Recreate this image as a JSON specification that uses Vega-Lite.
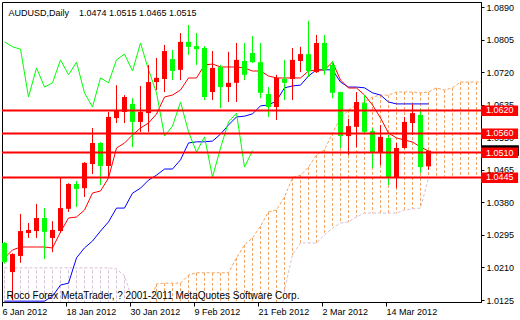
{
"$schema": "https://vega.github.io/schema/vega-lite/v6.json",
"width": 479, "height": 300,
"autosize": {"type": "none"},
"padding": {"left": 2, "top": 2, "right": 39, "bottom": 18},
"background": "white",
"config": {"font": "Liberation Sans", "view": {"stroke": "#000", "strokeWidth": 1},
 "axis": {"grid": false, "title": null, "labelOverlap": false, "labelBound": false, "labelFlush": false}},
"datasets": {
"bars": [
{"i":0,"o":1.0274,"h":1.0276,"l":1.0220,"c":1.0224},
{"i":1,"o":1.0198,"h":1.0247,"l":1.0125,"c":1.0245},
{"i":2,"o":1.0240,"h":1.0350,"l":1.0222,"c":1.0305},
{"i":3,"o":1.0300,"h":1.0326,"l":1.0287,"c":1.0308},
{"i":4,"o":1.0305,"h":1.0376,"l":1.0287,"c":1.0339},
{"i":5,"o":1.0339,"h":1.0365,"l":1.0232,"c":1.0303},
{"i":6,"o":1.0287,"h":1.0331,"l":1.0250,"c":1.0308},
{"i":7,"o":1.0305,"h":1.0446,"l":1.0300,"c":1.0365},
{"i":8,"o":1.0363,"h":1.0430,"l":1.0355,"c":1.0428},
{"i":9,"o":1.0428,"h":1.0436,"l":1.0368,"c":1.0415},
{"i":10,"o":1.0417,"h":1.0485,"l":1.0394,"c":1.0483},
{"i":11,"o":1.0480,"h":1.0574,"l":1.0454,"c":1.0535},
{"i":12,"o":1.0535,"h":1.0537,"l":1.0425,"c":1.0475},
{"i":13,"o":1.0475,"h":1.0616,"l":1.0444,"c":1.0603},
{"i":14,"o":1.0600,"h":1.0686,"l":1.0587,"c":1.0621},
{"i":15,"o":1.0616,"h":1.0660,"l":1.0587,"c":1.0655},
{"i":16,"o":1.0637,"h":1.0652,"l":1.0524,"c":1.0590},
{"i":17,"o":1.0590,"h":1.0684,"l":1.0564,"c":1.0616},
{"i":18,"o":1.0613,"h":1.0739,"l":1.0564,"c":1.0694},
{"i":19,"o":1.0694,"h":1.0757,"l":1.0673,"c":1.0705},
{"i":20,"o":1.0702,"h":1.0791,"l":1.0668,"c":1.0775},
{"i":21,"o":1.0754,"h":1.0778,"l":1.0699,"c":1.0723},
{"i":22,"o":1.0726,"h":1.0822,"l":1.0699,"c":1.0799},
{"i":23,"o":1.0799,"h":1.0843,"l":1.0765,"c":1.0786},
{"i":24,"o":1.0788,"h":1.0822,"l":1.0739,"c":1.0780},
{"i":25,"o":1.0783,"h":1.0788,"l":1.0647,"c":1.0655},
{"i":26,"o":1.0668,"h":1.0775,"l":1.0647,"c":1.0731},
{"i":27,"o":1.0733,"h":1.0739,"l":1.0626,"c":1.0681},
{"i":28,"o":1.0681,"h":1.0773,"l":1.0642,"c":1.0692},
{"i":29,"o":1.0692,"h":1.0796,"l":1.0642,"c":1.0752},
{"i":30,"o":1.0749,"h":1.0796,"l":1.0699,"c":1.0713},
{"i":31,"o":1.0770,"h":1.0814,"l":1.0744,"c":1.0746},
{"i":32,"o":1.0746,"h":1.0796,"l":1.0652,"c":1.0666},
{"i":33,"o":1.0663,"h":1.0681,"l":1.0603,"c":1.0629},
{"i":34,"o":1.0629,"h":1.0713,"l":1.0595,"c":1.0705},
{"i":35,"o":1.0702,"h":1.0752,"l":1.0647,"c":1.0692},
{"i":36,"o":1.0702,"h":1.0783,"l":1.0647,"c":1.0752},
{"i":37,"o":1.0749,"h":1.0786,"l":1.0720,"c":1.0767},
{"i":38,"o":1.0767,"h":1.0854,"l":1.0707,"c":1.0723},
{"i":39,"o":1.0720,"h":1.0817,"l":1.0718,"c":1.0796},
{"i":40,"o":1.0796,"h":1.0817,"l":1.0713,"c":1.0726},
{"i":41,"o":1.0739,"h":1.0749,"l":1.0652,"c":1.0666},
{"i":42,"o":1.0668,"h":1.0669,"l":1.0522,"c":1.0553},
{"i":43,"o":1.0553,"h":1.0598,"l":1.0504,"c":1.0579},
{"i":44,"o":1.0577,"h":1.0668,"l":1.0524,"c":1.0642},
{"i":45,"o":1.0639,"h":1.0660,"l":1.0561,"c":1.0564},
{"i":46,"o":1.0566,"h":1.0574,"l":1.0470,"c":1.0511},
{"i":47,"o":1.0509,"h":1.0582,"l":1.0477,"c":1.0551},
{"i":48,"o":1.0548,"h":1.0556,"l":1.0425,"c":1.0446},
{"i":49,"o":1.0446,"h":1.0535,"l":1.0417,"c":1.0522},
{"i":50,"o":1.0522,"h":1.0603,"l":1.0520,"c":1.0590},
{"i":51,"o":1.0587,"h":1.0637,"l":1.0556,"c":1.0613},
{"i":52,"o":1.0608,"h":1.0624,"l":1.0457,"c":1.0472},
{"i":53,"o":1.0474,"h":1.0515,"l":1.0465,"c":1.0515}
],
"ichi": [
{"i":0,"tenkan":1.02347,"kijun":1.0122},{"i":1,"tenkan":1.02556,"kijun":1.0122},{"i":2,"tenkan":1.02634,"kijun":1.0122},{"i":3,"tenkan":1.02634,"kijun":1.0122},{"i":4,"tenkan":1.02634,"kijun":1.0122},{"i":5,"tenkan":1.02634,"kijun":1.0122},{"i":6,"tenkan":1.02608,"kijun":1.0135},{"i":7,"tenkan":1.03026,"kijun":1.0164},{"i":8,"tenkan":1.03391,"kijun":1.0169},{"i":9,"tenkan":1.03417,"kijun":1.0235},{"i":10,"tenkan":1.03600,"kijun":1.0261},{"i":11,"tenkan":1.04044,"kijun":1.0279},{"i":12,"tenkan":1.04096,"kijun":1.0305},{"i":13,"tenkan":1.04435,"kijun":1.0329},{"i":14,"tenkan":1.05219,"kijun":1.0365},{"i":15,"tenkan":1.05349,"kijun":1.0365},{"i":16,"tenkan":1.05558,"kijun":1.0404},{"i":17,"tenkan":1.05741,"kijun":1.0417},{"i":18,"tenkan":1.05871,"kijun":1.0438},{"i":19,"tenkan":1.06106,"kijun":1.0451},{"i":20,"tenkan":1.06550,"kijun":1.0467},{"i":21,"tenkan":1.06603,"kijun":1.0467},{"i":22,"tenkan":1.06733,"kijun":1.0491},{"i":23,"tenkan":1.07047,"kijun":1.0535},{"i":24,"tenkan":1.07047,"kijun":1.0538},{"i":25,"tenkan":1.07386,"kijun":1.0538},{"i":26,"tenkan":1.07412,"kijun":1.0540},{"i":27,"tenkan":1.07334,"kijun":1.0558},{"i":28,"tenkan":1.07334,"kijun":1.0582},{"i":29,"tenkan":1.07334,"kijun":1.0603},{"i":30,"tenkan":1.07308,"kijun":1.0605},{"i":31,"tenkan":1.07229,"kijun":1.0611},{"i":32,"tenkan":1.07229,"kijun":1.0632},{"i":33,"tenkan":1.07099,"kijun":1.0634},{"i":34,"tenkan":1.07047,"kijun":1.0645},{"i":35,"tenkan":1.07047,"kijun":1.0679},{"i":36,"tenkan":1.07047,"kijun":1.0684},{"i":37,"tenkan":1.07047,"kijun":1.0686},{"i":38,"tenkan":1.07229,"kijun":1.0710},{"i":39,"tenkan":1.07255,"kijun":1.0726},{"i":40,"tenkan":1.07255,"kijun":1.0726},{"i":41,"tenkan":1.07464,"kijun":1.0726},{"i":42,"tenkan":1.06994,"kijun":1.0694},{"i":43,"tenkan":1.06785,"kijun":1.0681},{"i":44,"tenkan":1.06785,"kijun":1.0681},{"i":45,"tenkan":1.06603,"kijun":1.0679},{"i":46,"tenkan":1.06342,"kijun":1.0666},{"i":47,"tenkan":1.06003,"kijun":1.0660},{"i":48,"tenkan":1.05610,"kijun":1.0642},{"i":49,"tenkan":1.05480,"kijun":1.0637},{"i":50,"tenkan":1.05428,"kijun":1.0637},{"i":51,"tenkan":1.05375,"kijun":1.0637},{"i":52,"tenkan":1.05245,"kijun":1.0637},{"i":53,"tenkan":1.05140,"kijun":1.0637}
],
"chikou": [
{"i":0,"v":1.0799},{"i":1,"v":1.0786},{"i":2,"v":1.0780},{"i":3,"v":1.0655},{"i":4,"v":1.0731},{"i":5,"v":1.0681},{"i":6,"v":1.0692},{"i":7,"v":1.0752},{"i":8,"v":1.0713},{"i":9,"v":1.0746},{"i":10,"v":1.0666},{"i":11,"v":1.0629},{"i":12,"v":1.0705},{"i":13,"v":1.0692},{"i":14,"v":1.0752},{"i":15,"v":1.0767},{"i":16,"v":1.0723},{"i":17,"v":1.0796},{"i":18,"v":1.0726},{"i":19,"v":1.0666},{"i":20,"v":1.0553},{"i":21,"v":1.0579},{"i":22,"v":1.0642},{"i":23,"v":1.0564},{"i":24,"v":1.0511},{"i":25,"v":1.0551},{"i":26,"v":1.0446},{"i":27,"v":1.0522},{"i":28,"v":1.0590},{"i":29,"v":1.0613},{"i":30,"v":1.0472},{"i":31,"v":1.0515}
],
"cloud": [
{"i":0,"a":1.0090,"b":1.0209},{"i":1,"a":1.0090,"b":1.0209},{"i":2,"a":1.0090,"b":1.0209},{"i":3,"a":1.0090,"b":1.0209},{"i":4,"a":1.0090,"b":1.0209},{"i":5,"a":1.0090,"b":1.0209},{"i":6,"a":1.0090,"b":1.0209},{"i":7,"a":1.0090,"b":1.0209},{"i":8,"a":1.0090,"b":1.0209},{"i":9,"a":1.0090,"b":1.0209},{"i":10,"a":1.0090,"b":1.0209},{"i":11,"a":1.0090,"b":1.0209},{"i":12,"a":1.0090,"b":1.0209},{"i":13,"a":1.0090,"b":1.0209},{"i":14,"a":1.0090,"b":1.0206},{"i":15,"a":1.0090,"b":1.0188},{"i":16,"a":1.0090,"b":1.0125},{"i":17,"a":1.0060,"b":1.0050},{"i":18,"a":1.0108,"b":0.9990},{"i":19,"a":1.0167,"b":0.9990},{"i":20,"a":1.0169,"b":0.9990},{"i":21,"a":1.0169,"b":0.9990},{"i":22,"a":1.0169,"b":0.9990},{"i":23,"a":1.0190,"b":0.9990},{"i":24,"a":1.0196,"b":0.9990},{"i":25,"a":1.0196,"b":0.9990},{"i":26,"a":1.0196,"b":0.9990},{"i":27,"a":1.0196,"b":0.9990},{"i":28,"a":1.0196,"b":0.9990},{"i":29,"a":1.0235,"b":0.9990},{"i":30,"a":1.0269,"b":0.9990},{"i":31,"a":1.0287,"b":0.9990},{"i":32,"a":1.0318,"b":0.9990},{"i":33,"a":1.0355,"b":0.9990},{"i":34,"a":1.0360,"b":0.9990},{"i":35,"a":1.0394,"b":1.0151},{"i":36,"a":1.0444,"b":1.0243},{"i":37,"a":1.0451,"b":1.0274},{"i":38,"a":1.0472,"b":1.0274},{"i":39,"a":1.0504,"b":1.0274},{"i":40,"a":1.0517,"b":1.0295},{"i":41,"a":1.0561,"b":1.0313},{"i":42,"a":1.0600,"b":1.0326},{"i":43,"a":1.0621,"b":1.0329},{"i":44,"a":1.0634,"b":1.0342},{"i":45,"a":1.0642,"b":1.0352},{"i":46,"a":1.0655,"b":1.0352},{"i":47,"a":1.0660,"b":1.0352},{"i":48,"a":1.0660,"b":1.0352},{"i":49,"a":1.0668,"b":1.0352},{"i":50,"a":1.0668,"b":1.0360},{"i":51,"a":1.0668,"b":1.0363},{"i":52,"a":1.0666,"b":1.0365},{"i":53,"a":1.0668,"b":1.0444},{"i":54,"a":1.0679,"b":1.0444},{"i":55,"a":1.0673,"b":1.0444},{"i":56,"a":1.0679,"b":1.0444},{"i":57,"a":1.0694,"b":1.0444},{"i":58,"a":1.0694,"b":1.0444},{"i":59,"a":1.0694,"b":1.0444},{"i":60,"a":1.0694,"b":1.0444}
],
"levels": [{"p":1.0620},{"p":1.0560},{"p":1.0510},{"p":1.0445}],
"bid": [{"p":1.0515}]
},
"layer": [
{"data": {"name": "cloud"},
 "mark": {"type": "rule", "strokeDash": [3, 2], "strokeWidth": 1, "clip": true},
 "encoding": {
  "x": {"field": "i", "type": "quantitative", "scale": {"domain": [-0.3125, 59.5625], "nice": false, "zero": false},
   "axis": {"values": [-0.3, 7.7, 15.7, 23.7, 31.7, 39.7, 47.7], "tickCount": 30,
    "labelExpr": "['6 Jan 2012','18 Jan 2012','30 Jan 2012','9 Feb 2012','21 Feb 2012','2 Mar 2012','14 Mar 2012'][round(datum.value/8)]",
    "labelAlign": "left", "labelBaseline": "top", "labelPadding": 1, "labelFontSize": 9, "labelColor": "#000", "labelFlush": false, "labelOverlap": false,
    "tickSize": 4, "tickColor": "#000", "domainColor": "#000", "grid": false,
    "title": "Roco Forex MetaTrader, ? 2001-2011 MetaQuotes Software Corp.", "titleX": 4, "titleY": -3.5, "titleAlign": "left", "titleBaseline": "alphabetic",
    "titleFontSize": 10, "titleFontWeight": "normal", "titleColor": "#000", "zindex": 1}},
  "y": {"field": "a", "type": "quantitative", "scale": {"domain": [1.011979, 1.090308], "nice": false, "zero": false},
   "axis": {"orient": "right", "values": [1.0125, 1.021, 1.0295, 1.038, 1.0465, 1.055, 1.0635, 1.072, 1.0805, 1.089], "tickCount": 30, "format": ".4f",
    "labelAlign": "left", "labelBaseline": "middle", "labelPadding": 2, "labelFontSize": 9, "labelColor": "#000", "labelFlush": false, "labelOverlap": false,
    "tickSize": 3, "tickColor": "#000", "domainColor": "#000", "grid": false,
    "title": "AUDUSD,Daily\u00a0\u00a0\u00a0 1.0474 1.0515 1.0465 1.0515", "titleX": -473, "titleY": 13, "titleAngle": 0, "titleAlign": "left", "titleBaseline": "alphabetic",
    "titleFontSize": 9, "titleFontWeight": "normal", "titleColor": "#000", "zindex": 0}},
  "y2": {"field": "b"},
  "color": {"condition": {"test": "datum.a > datum.b", "value": "#F4A460"}, "value": "#D8BFD8"}
 }},
{"data": {"name": "cloud"},
 "mark": {"type": "line", "color": "#F4A460", "strokeDash": [3, 2], "strokeWidth": 1, "clip": true},
 "encoding": {
  "x": {"field": "i", "type": "quantitative", "scale": {"domain": [-0.3125, 59.5625], "nice": false, "zero": false}},
  "y": {"field": "a", "type": "quantitative", "scale": {"domain": [1.011979, 1.090308], "nice": false, "zero": false}}
 }},
{"data": {"name": "cloud"},
 "mark": {"type": "line", "color": "#D8BFD8", "strokeDash": [3, 2], "strokeWidth": 1, "clip": true},
 "encoding": {
  "x": {"field": "i", "type": "quantitative", "scale": {"domain": [-0.3125, 59.5625], "nice": false, "zero": false}},
  "y": {"field": "b", "type": "quantitative", "scale": {"domain": [1.011979, 1.090308], "nice": false, "zero": false}}
 }},
{"data": {"name": "ichi"},
 "mark": {"type": "line", "color": "#0000FF", "strokeWidth": 1, "clip": true},
 "encoding": {
  "x": {"field": "i", "type": "quantitative", "scale": {"domain": [-0.3125, 59.5625], "nice": false, "zero": false}},
  "y": {"field": "kijun", "type": "quantitative", "scale": {"domain": [1.011979, 1.090308], "nice": false, "zero": false}}
 }},
{"data": {"name": "ichi"},
 "mark": {"type": "line", "color": "#FF0000", "strokeWidth": 1, "clip": true},
 "encoding": {
  "x": {"field": "i", "type": "quantitative", "scale": {"domain": [-0.3125, 59.5625], "nice": false, "zero": false}},
  "y": {"field": "tenkan", "type": "quantitative", "scale": {"domain": [1.011979, 1.090308], "nice": false, "zero": false}}
 }},
{"data": {"name": "chikou"},
 "mark": {"type": "line", "color": "#00FF00", "strokeWidth": 1, "clip": true},
 "encoding": {
  "x": {"field": "i", "type": "quantitative", "scale": {"domain": [-0.3125, 59.5625], "nice": false, "zero": false}},
  "y": {"field": "v", "type": "quantitative", "scale": {"domain": [1.011979, 1.090308], "nice": false, "zero": false}}
 }},
{"data": {"name": "bars"},
 "mark": {"type": "rule", "strokeWidth": 1, "clip": true},
 "encoding": {
  "x": {"field": "i", "type": "quantitative", "scale": {"domain": [-0.3125, 59.5625], "nice": false, "zero": false}},
  "y": {"field": "l", "type": "quantitative", "scale": {"domain": [1.011979, 1.090308], "nice": false, "zero": false}},
  "y2": {"field": "h"},
  "color": {"condition": {"test": "datum.c >= datum.o", "value": "#FF0000"}, "value": "#00FF00"}
 }},
{"data": {"name": "bars"},
 "mark": {"type": "rect", "xOffset": -2.5, "x2Offset": 2.5, "clip": true},
 "encoding": {
  "x": {"field": "i", "type": "quantitative", "scale": {"domain": [-0.3125, 59.5625], "nice": false, "zero": false}},
  "x2": {"field": "i"},
  "y": {"field": "o", "type": "quantitative", "scale": {"domain": [1.011979, 1.090308], "nice": false, "zero": false}},
  "y2": {"field": "c"},
  "color": {"condition": {"test": "datum.c >= datum.o", "value": "#FF0000"}, "value": "#00FF00"}
 }},
{"data": {"name": "levels"},
 "mark": {"type": "rule", "color": "#FF0000", "strokeWidth": 2},
 "encoding": {
  "y": {"field": "p", "type": "quantitative", "scale": {"domain": [1.011979, 1.090308], "nice": false, "zero": false}}
 }},
{"data": {"name": "bid"},
 "mark": {"type": "rect", "color": "#000000", "yOffset": -5.5, "y2Offset": 5},
 "encoding": {
  "x": {"datum": 59.5625, "type": "quantitative", "scale": {"domain": [-0.3125, 59.5625], "nice": false, "zero": false}},
  "x2": {"datum": 64.3},
  "y": {"field": "p", "type": "quantitative", "scale": {"domain": [1.011979, 1.090308], "nice": false, "zero": false}},
  "y2": {"field": "p"}
 }},
{"data": {"name": "levels"},
 "mark": {"type": "rect", "color": "#FF0000", "yOffset": -5, "y2Offset": 5.5},
 "encoding": {
  "x": {"datum": 59.5625, "type": "quantitative", "scale": {"domain": [-0.3125, 59.5625], "nice": false, "zero": false}},
  "x2": {"datum": 64.2},
  "y": {"field": "p", "type": "quantitative", "scale": {"domain": [1.011979, 1.090308], "nice": false, "zero": false}},
  "y2": {"field": "p"}
 }},
{"data": {"name": "levels"},
 "mark": {"type": "text", "color": "#FFFFFF", "align": "left", "baseline": "middle", "fontSize": 9},
 "encoding": {
  "x": {"datum": 60.2, "type": "quantitative", "scale": {"domain": [-0.3125, 59.5625], "nice": false, "zero": false}},
  "y": {"field": "p", "type": "quantitative", "scale": {"domain": [1.011979, 1.090308], "nice": false, "zero": false}},
  "text": {"field": "p", "type": "quantitative", "format": ".4f"}
 }}
]
}
